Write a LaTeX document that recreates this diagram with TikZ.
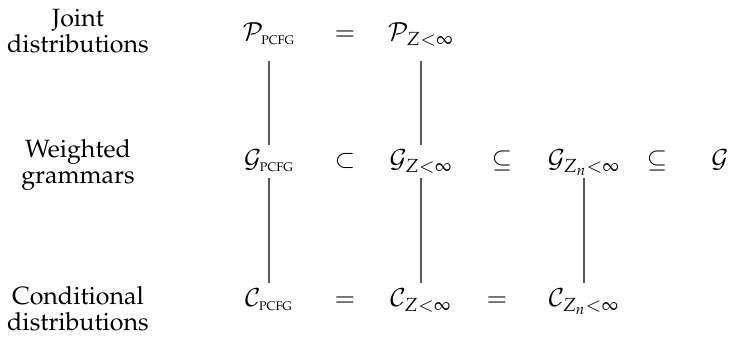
\documentclass[tikz,border=0pt]{standalone}
\usepackage[T1]{fontenc}
\usepackage{mathpazo}
\usepackage{amsmath}
\newcommand{\sPCFG}{\text{\tiny PCFG}}
\begin{document}
\begin{tikzpicture}[x=0.4pt,y=-0.4pt,
  lab/.style={align=center,font=\fontsize{10}{10.4}\selectfont,inner sep=0},
  m/.style={inner sep=0,anchor=base},
  conn/.style={draw=black!65,line width=0.45pt}]
\useasboundingbox (0,0) rectangle (729,339);
% row labels
\node[lab] (lj) at (78,31.5) {Joint\\distributions};
\node[lab] (lw) at (78,165) {Weighted\\grammars};
\node[lab] (lc) at (78,309) {Conditional\\distributions};
% top row
\node[m] (P1) at (269,41) {$\mathcal{P}_{\sPCFG}$};
\node[m] (r1) at (345,41) {$=$};
\node[m] (P2) at (421,41) {$\mathcal{P}_{Z<\infty}$};
% middle row
\node[m] (G1) at (269,168) {$\mathcal{G}_{\sPCFG}$};
\node[m] (r2) at (345,168) {$\subset$};
\node[m] (G2) at (421,168) {$\mathcal{G}_{Z<\infty}$};
\node[m] (r3) at (502,168) {$\subseteq$};
\node[m] (G3) at (584,168) {$\mathcal{G}_{Z_n<\infty}$};
\node[m] (r4) at (657,168) {$\subseteq$};
\node[m] (G4) at (720,168) {$\mathcal{G}$};
% bottom row
\node[m] (C1) at (269,307) {$\mathcal{C}_{\sPCFG}$};
\node[m] (r5) at (345,307) {$=$};
\node[m] (C2) at (421,307) {$\mathcal{C}_{Z<\infty}$};
\node[m] (r6) at (497,307) {$=$};
\node[m] (C3) at (584,307) {$\mathcal{C}_{Z_n<\infty}$};
% connectors
\draw[conn] ([yshift=-8pt]P1.base) -- ([yshift=9.2pt]G1.base);
\draw[conn] ([yshift=-8pt]P2.base) -- ([yshift=9.2pt]G2.base);
\draw[conn] ([yshift=-4pt]G1.base) -- ([yshift=9.6pt]C1.base);
\draw[conn] ([yshift=-4pt]G2.base) -- ([yshift=9.6pt]C2.base);
\draw[conn] ([yshift=-4pt]G3.base) -- ([yshift=9.6pt]C3.base);
\end{tikzpicture}
\end{document}
